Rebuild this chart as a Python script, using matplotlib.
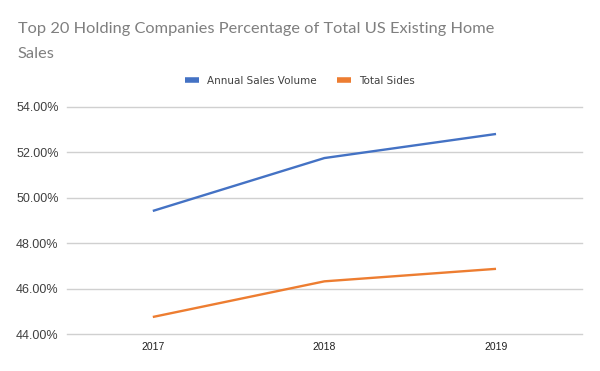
import matplotlib
matplotlib.use("Agg")
import matplotlib.pyplot as plt
from matplotlib.ticker import FuncFormatter

# data
years = ["2017", "2018", "2019"]
sales_volume = [49.42, 51.75, 52.81]
total_sides = [44.75, 46.32, 46.87]
yticks = [44, 46, 48, 50, 52, 54]

blue = "#4472C4"
orange = "#ED7D31"

fig = plt.figure(figsize=(6, 3.71), dpi=100)
ax = fig.add_axes([0.1117, 0.0997, 0.858, 0.612])

x = range(len(years))
ax.plot(x, sales_volume, color=blue, lw=1.7, label="Annual Sales Volume", solid_capstyle="butt")
ax.plot(x, total_sides, color=orange, lw=1.7, label="Total Sides", solid_capstyle="butt")

ax.set_xlim(-0.5, 2.5)
ax.set_ylim(44, 54)
ax.set_yticks(yticks)
ax.yaxis.set_major_formatter(FuncFormatter(lambda v, p: f"{v:.2f}%"))
ax.set_xticks(list(x))
ax.set_xticklabels(years)
ax.grid(axis="y", color="#d0d0d0", lw=1)
for gl in ax.get_ygridlines():
    gl.set_clip_on(False)
ax.set_axisbelow(True)
for s in ax.spines.values():
    s.set_visible(False)
ax.tick_params(length=0)
ax.tick_params(axis="y", labelsize=9, colors="#404040", pad=6)
ax.tick_params(axis="x", labelsize=7.5, colors="#202020", pad=6)
for lab in ax.get_yticklabels() + ax.get_xticklabels():
    lab.set_family("Liberation Sans")

fig.text(0.03, 0.835, "Top 20 Holding Companies Percentage of Total US Existing Home\nSales",
         fontsize=11.8, color="#7f7f7f", family="Lato", linespacing=2.0, va="bottom")

leg = fig.legend(loc="center", bbox_to_anchor=(0.5, 0.782), ncol=2, frameon=False,
                 fontsize=7.5, handlelength=1.3, columnspacing=2.0, handletextpad=0.8)
for t in leg.get_texts():
    t.set_color("#404040")
for h in leg.get_lines():
    h.set_linewidth(4)

fig.savefig("out.png", dpi=100)
